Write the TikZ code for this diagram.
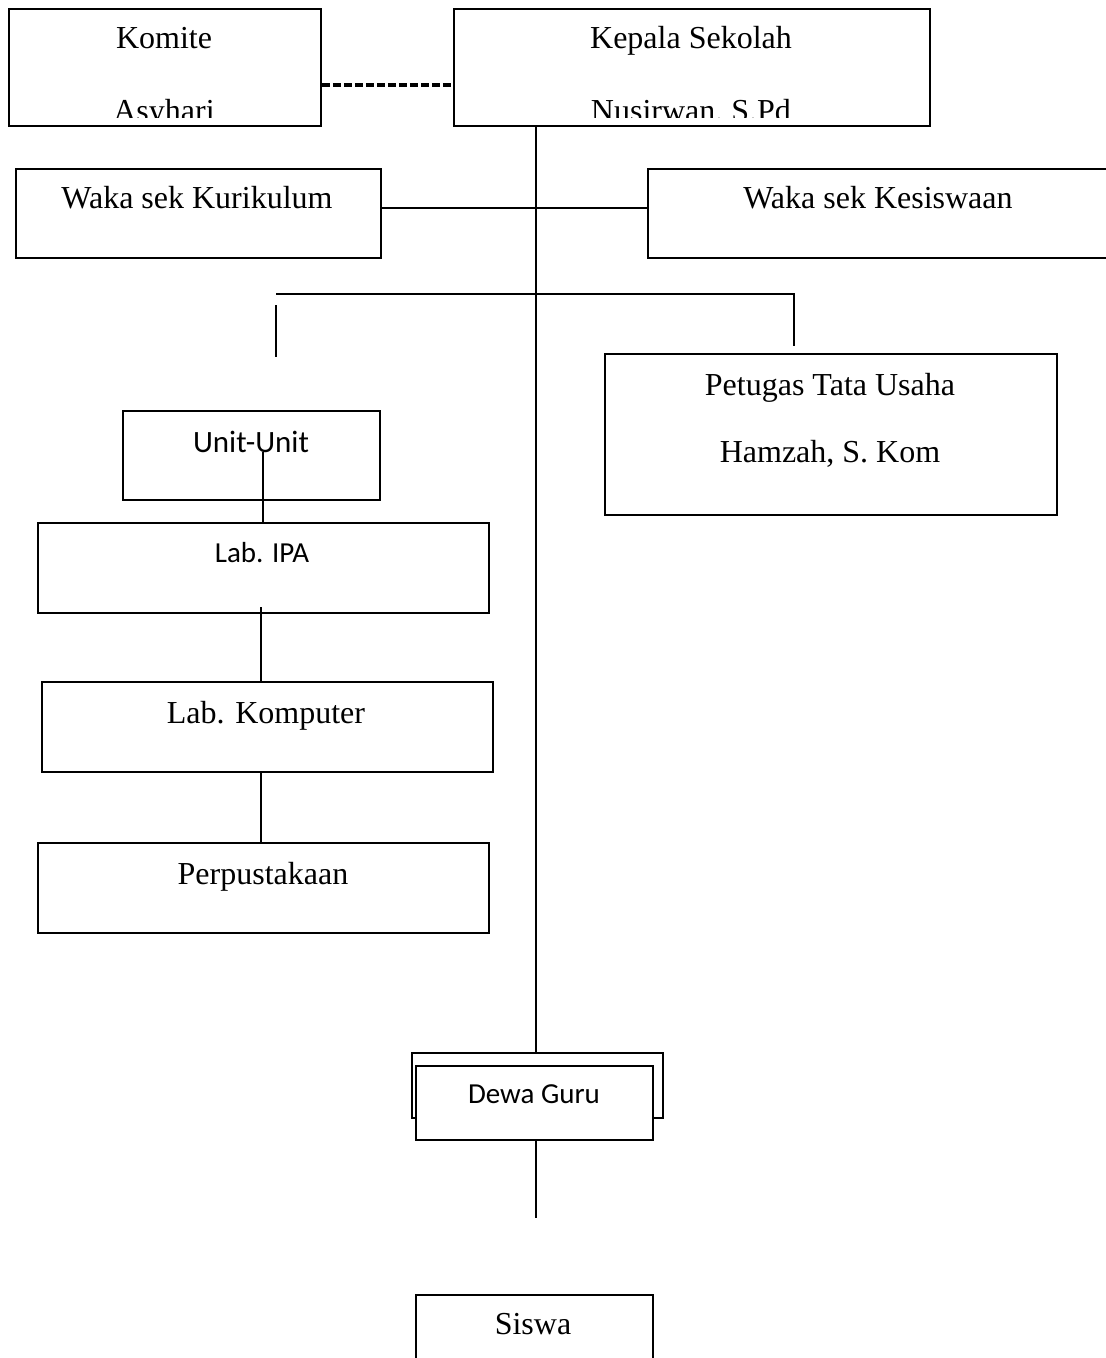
\documentclass[tikz,border=0pt]{standalone}
\usepackage{fontspec}
\setmainfont{Liberation Serif}
\newfontfamily\calib{Carlito}
\begin{document}
\begin{tikzpicture}[x=1pt,y=-1pt,
  box/.style={draw, line width=1.8pt, rectangle, inner sep=0pt, anchor=north west, fill=white},
  serif/.style={font=\fontsize{32}{38}\selectfont, anchor=base, inner sep=0pt},
  sans/.style={font=\calib\fontsize{29}{35}\selectfont, anchor=base, inner sep=0pt},
  link/.style={line width=1.5pt},
  dashlink/.style={line width=3.2pt, dash pattern=on 8pt off 3pt}]
\useasboundingbox (0,0) rectangle (1106,1358);
\fill[white] (0,0) rectangle (1106,1358);

% boxes
\node[box, minimum width=312pt, minimum height=117pt] (komite) at (8,8) {};
\node[box, minimum width=476pt, minimum height=117pt] (kepala) at (453,8) {};
\node[box, minimum width=365pt, minimum height=89pt] (kurik) at (15,168) {};
\node[box, minimum width=462pt, minimum height=89pt] (kesis) at (647,168) {};
\node[box, minimum width=452pt, minimum height=161pt] (petugas) at (604,353) {};
\node[box, minimum width=257pt, minimum height=89pt] (unit) at (122,410) {};
\node[box, minimum width=451pt, minimum height=90pt] (labipa) at (37,522) {};
\node[box, minimum width=451pt, minimum height=90pt] (labkom) at (41,681) {};
\node[box, minimum width=451pt, minimum height=90pt] (perpus) at (37,842) {};
\node[box, minimum width=251pt, minimum height=65pt] (dewaO) at (411,1052) {};
\node[box, minimum width=237pt, minimum height=80pt] (siswa) at (415,1294) {};

% texts
\node[serif] (tkomite) at (164,48) {Komite};
\begin{scope}
  \clip (8,0) rectangle (320,117);
  \node[serif] (tasy) at (164,121) {Asyhari};
\end{scope}
\node[serif] (tkep) at (691,48) {Kepala Sekolah};
\begin{scope}
  \clip (453,0) rectangle (929,117);
  \node[serif] (tnus) at (691,121) {Nusirwan, S.Pd};
\end{scope}
\node[serif] (tkur) at (197,208) {Waka sek Kurikulum};
\node[serif] (tkes) at (878,208) {Waka sek Kesiswaan};
\node[serif] (tpet1) at (830,395) {Petugas Tata Usaha};
\node[serif] (tpet2) at (830,462) {Hamzah, S. Kom};
\node[sans, font=\calib\fontsize{31}{36}\selectfont] (tunit) at (251,452) {Unit-Unit};
\node[sans] (tipa) at (262,562) {Lab. IPA};
\node[serif] (tkom) at (266,723) {Lab. Komputer};
\node[serif] (tperp) at (263,884) {Perpustakaan};
\node[serif] (tsiswa) at (533,1334) {Siswa};

% connectors
\coordinate (dy) at (0,85);
\draw[dashlink] (komite.east |- dy) -- (kepala.west |- dy);
\coordinate (mx) at (536,0);
\draw[link] (kepala.south -| mx) -- (dewaO.north -| mx);
\coordinate (ky) at (0,208);
\draw[link] (kurik.east |- ky) -- (kesis.west |- ky);
\coordinate (bl) at (276,294);
\coordinate (br) at (794,294);
\coordinate (brend) at (794,346);
\draw[link] (bl) -- (br) -- (brend);
\coordinate (lv1) at (276,305);
\coordinate (lv2) at (276,357);
\draw[link] (lv1) -- (lv2);
\coordinate (u) at (263,452);
\draw[link] (u) -- (u |- labipa.north);
\coordinate (l) at (261,607);
\draw[link] (l) -- (l |- labkom.north);
\draw[link] (labkom.south -| l) -- (perpus.north -| l);

% Dewa Guru inner box on top
\node[box, minimum width=237pt, minimum height=74pt] (dewaI) at (415,1065) {};
\node[sans] (tdewa) at (534,1103) {Dewa Guru};
\coordinate (s) at (536,1218);
\draw[link] (dewaI.south -| s) -- (s);
\end{tikzpicture}
\end{document}
